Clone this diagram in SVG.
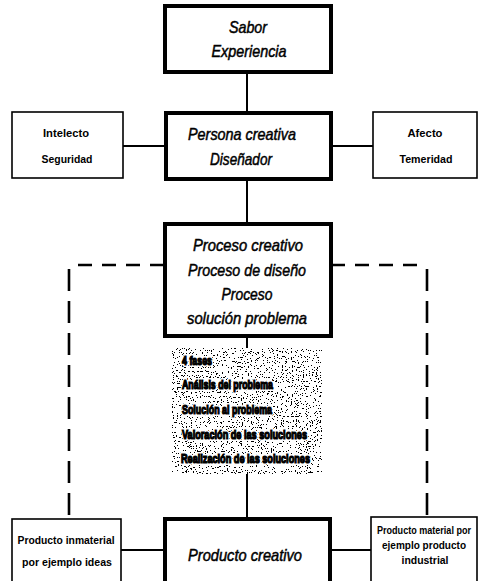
<svg xmlns="http://www.w3.org/2000/svg" width="480" height="581" viewBox="0 0 480 581">
  <style>
    .main { fill: #fff; stroke: #000; stroke-width: 4; }
    .side { fill: #fff; stroke: #000; stroke-width: 1.6; }
    .link { stroke: #000; stroke-width: 2; fill: none; }
    .dashh { stroke: #000; stroke-width: 2.6; fill: none; stroke-dasharray: 14 10; }
    .dashv { stroke: #000; stroke-width: 2.6; fill: none; stroke-dasharray: 22 10; }
    .big { font-family: "Liberation Sans", Arial, sans-serif; font-style: italic; font-size: 17px; fill: #000; stroke: #000; stroke-width: 0.5; text-anchor: middle; }
    .small { font-family: "Liberation Sans", Arial, sans-serif; font-weight: bold; font-size: 11px; fill: #000; text-anchor: middle; }
    .halo { font-family: "Liberation Sans", Arial, sans-serif; font-weight: bold; font-size: 12px; fill: #fff; stroke: #fff; stroke-width: 4; }
    .phase { font-family: "Liberation Sans", Arial, sans-serif; font-weight: bold; font-size: 12px; fill: #000; stroke: #000; stroke-width: 1.2; }
  </style>
  <defs>
    <filter id="grain" x="0" y="0" width="1" height="1">
      <feTurbulence type="fractalNoise" baseFrequency="0.8" numOctaves="2" seed="11" result="n"/>
      <feColorMatrix in="n" type="matrix" values="0 0 0 0 0  0 0 0 0 0  0 0 0 0 0  1 0 0 0 0" result="a"/>
      <feComponentTransfer in="a">
        <feFuncA type="discrete" tableValues="1 1 1 1 1 1 1 0 0 0 0 0 0 0 0 0 0 0 0 0"/>
      </feComponentTransfer>
    </filter>
  </defs>

  <!-- connectors -->
  <g id="connectors">
    <line class="link" x1="247" y1="72" x2="247" y2="112"/>
    <line class="link" x1="123" y1="146" x2="165" y2="146"/>
    <line class="link" x1="332" y1="146" x2="373" y2="146"/>
    <line class="link" x1="247" y1="179" x2="247" y2="223"/>
    <line class="link" x1="247" y1="336" x2="247" y2="348"/>
    <line class="link" x1="247" y1="474" x2="247" y2="518"/>
    <line class="link" x1="121" y1="550" x2="164" y2="550"/>
    <line class="link" x1="330" y1="550" x2="371" y2="550"/>
    <path class="dashh" d="M164 265 H70"/>
    <path class="dashv" d="M69 269 V519"/>
    <path class="dashh" d="M331 265 H427"/>
    <path class="dashv" d="M427 269 V517"/>
  </g>

  <g id="sabor">
    <rect class="main" x="165" y="6" width="166" height="66"/>
    <text class="big" x="248" y="33" textLength="38" lengthAdjust="spacingAndGlyphs">Sabor</text>
    <text class="big" x="249" y="57" textLength="75" lengthAdjust="spacingAndGlyphs">Experiencia</text>
  </g>

  <g id="persona">
    <rect class="main" x="166" y="113" width="165" height="66"/>
    <text class="big" x="242" y="140" textLength="108" lengthAdjust="spacingAndGlyphs">Persona creativa</text>
    <text class="big" x="241" y="165" textLength="62" lengthAdjust="spacingAndGlyphs">Diseñador</text>
  </g>

  <g id="intelecto">
    <rect class="side" x="12" y="112" width="111" height="66"/>
    <text class="small" x="66" y="137" textLength="46" lengthAdjust="spacingAndGlyphs">Intelecto</text>
    <text class="small" x="67" y="163" textLength="51" lengthAdjust="spacingAndGlyphs">Seguridad</text>
  </g>

  <g id="afecto">
    <rect class="side" x="373" y="112" width="104" height="66"/>
    <text class="small" x="425" y="137" textLength="35" lengthAdjust="spacingAndGlyphs">Afecto</text>
    <text class="small" x="426" y="163" textLength="53" lengthAdjust="spacingAndGlyphs">Temeridad</text>
  </g>

  <g id="proceso">
    <rect class="main" x="165" y="224" width="166" height="112"/>
    <text class="big" x="248" y="251" textLength="110" lengthAdjust="spacingAndGlyphs">Proceso creativo</text>
    <text class="big" x="247" y="276" textLength="118" lengthAdjust="spacingAndGlyphs">Proceso de diseño</text>
    <text class="big" x="247" y="300" textLength="51" lengthAdjust="spacingAndGlyphs">Proceso</text>
    <text class="big" x="247" y="324" textLength="120" lengthAdjust="spacingAndGlyphs">solución problema</text>
  </g>

  <g id="fases">
    <rect x="172" y="348" width="150" height="126" fill="#fff"/>
    <rect x="172" y="348" width="150" height="126" fill="#000" filter="url(#grain)"/>
    <!-- white clearing behind each phase line -->
    <g aria-hidden="true">
      <text class="halo" x="182" y="365" textLength="30" lengthAdjust="spacingAndGlyphs">4 fases</text>
      <text class="halo" x="182" y="389" textLength="91" lengthAdjust="spacingAndGlyphs">Análisis del problema</text>
      <text class="halo" x="182" y="414" textLength="90" lengthAdjust="spacingAndGlyphs">Solución al problema</text>
      <text class="halo" x="182" y="439" textLength="125" lengthAdjust="spacingAndGlyphs">Valoración de las soluciones</text>
      <text class="halo" x="181" y="463" textLength="129" lengthAdjust="spacingAndGlyphs">Realización de las soluciones</text>
    </g>
    <text class="phase" x="182" y="365" textLength="30" lengthAdjust="spacingAndGlyphs">4 fases</text>
    <text class="phase" x="182" y="389" textLength="91" lengthAdjust="spacingAndGlyphs">Análisis del problema</text>
    <text class="phase" x="182" y="414" textLength="90" lengthAdjust="spacingAndGlyphs">Solución al problema</text>
    <text class="phase" x="182" y="439" textLength="125" lengthAdjust="spacingAndGlyphs">Valoración de las soluciones</text>
    <text class="phase" x="181" y="463" textLength="129" lengthAdjust="spacingAndGlyphs">Realización de las soluciones</text>
  </g>

  <g id="inmaterial">
    <rect class="side" x="12" y="519" width="109" height="70"/>
    <text class="small" x="66" y="544" textLength="97" lengthAdjust="spacingAndGlyphs">Producto inmaterial</text>
    <text class="small" x="67" y="566" textLength="90" lengthAdjust="spacingAndGlyphs">por ejemplo ideas</text>
  </g>

  <g id="producto">
    <rect class="main" x="165" y="519" width="165" height="70"/>
    <text class="big" x="245" y="561" textLength="114" lengthAdjust="spacingAndGlyphs">Producto creativo</text>
  </g>

  <g id="material">
    <rect class="side" x="371" y="517" width="106" height="72"/>
    <text class="small" x="424" y="534" font-size="9" textLength="94" lengthAdjust="spacingAndGlyphs">Producto material por</text>
    <text class="small" x="424" y="549" textLength="84" lengthAdjust="spacingAndGlyphs">ejemplo producto</text>
    <text class="small" x="425" y="564" textLength="47" lengthAdjust="spacingAndGlyphs">industrial</text>
  </g>
</svg>
